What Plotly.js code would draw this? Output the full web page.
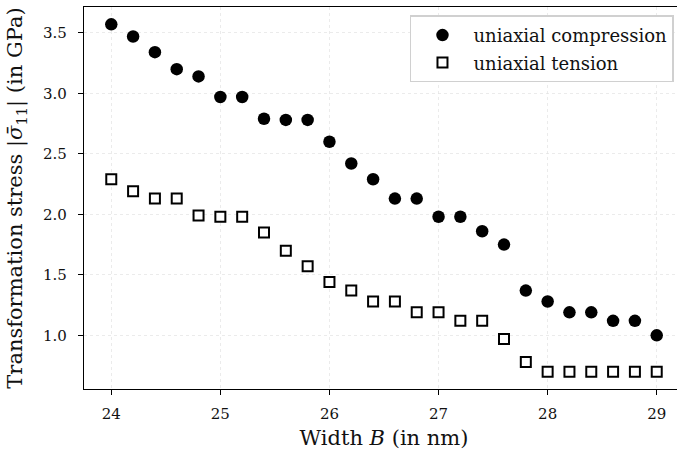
<!DOCTYPE html>
<html>
<head>
<meta charset="utf-8">
<script src="https://cdn.plot.ly/plotly-3.0.1.min.js"></script>
<style>
  html, body { margin: 0; padding: 0; overflow: hidden; background: #fff; }
  #chart { width: 690px; height: 458px; }
</style>
</head>
<body>
<div id="chart"></div>
<script>
// Strip width B (nm)
const widths = [24.0, 24.2, 24.4, 24.6, 24.8, 25.0, 25.2, 25.4, 25.6, 25.8, 26.0,
                26.2, 26.4, 26.6, 26.8, 27.0, 27.2, 27.4, 27.6, 27.8,
                28.0, 28.2, 28.4, 28.6, 28.8, 29.0];

// |sigma_11| at transformation (GPa)
const compression = [3.57, 3.47, 3.34, 3.20, 3.14, 2.97, 2.97, 2.79, 2.78, 2.78, 2.60,
                     2.42, 2.29, 2.13, 2.13, 1.98, 1.98, 1.86, 1.75, 1.37,
                     1.28, 1.19, 1.19, 1.12, 1.12, 1.00];
const tension = [2.29, 2.19, 2.13, 2.13, 1.99, 1.98, 1.98, 1.85, 1.70, 1.57, 1.44,
                 1.37, 1.28, 1.28, 1.19, 1.19, 1.12, 1.12, 0.97, 0.78,
                 0.70, 0.70, 0.70, 0.70, 0.70, 0.70];

const seriesNames = ['uniaxial compression', 'uniaxial tension'];
const xTicks = [24, 25, 26, 27, 28, 29];
const yTicks = [1.0, 1.5, 2.0, 2.5, 3.0, 3.5];

const serif = 'DejaVu Serif, serif';
const ink = '#111111';

const traces = [
  {
    x: widths, y: compression, name: seriesNames[0], type: 'scatter', mode: 'markers',
    legendgroup: 'c',
    marker: { symbol: 'circle', size: 12.5, color: '#000000', line: { width: 0 } }
  },
  {
    x: widths, y: tension, name: seriesNames[1], type: 'scatter', mode: 'markers',
    legendgroup: 't',
    marker: { symbol: 'square', size: 10, color: '#ffffff', line: { width: 2, color: '#000000' } }
  }
];

const axisCommon = {
  showline: true, mirror: true, linecolor: '#000000', linewidth: 1.2,
  ticks: 'outside', ticklen: 5, tickwidth: 1.2, tickcolor: '#000000',
  showgrid: true, gridcolor: '#e2e2e2', griddash: 'dot', gridwidth: 0.7,
  zeroline: false,
  tickfont: { family: serif, size: 15, color: ink }
};

const layout = {
  width: 690, height: 458,
  margin: { l: 84, r: 6, t: 7, b: 69 },
  paper_bgcolor: '#ffffff', plot_bgcolor: '#ffffff',
  showlegend: true,
  xaxis: Object.assign({}, axisCommon, {
    range: [23.75, 29.25],
    tickvals: xTicks, ticktext: xTicks.map(String),
    ticklabelstandoff: 6,
    title: { text: 'Width <i>B</i> (in nm)', font: { family: serif, size: 21, color: ink }, standoff: 8 }
  }),
  yaxis: Object.assign({}, axisCommon, {
    range: [0.5565, 3.7135],
    tickvals: yTicks, ticktext: yTicks.map(v => v.toFixed(1)),
    ticklabelstandoff: 8,
    title: { text: 'Transformation stress |<i>σ̄</i><sub>11</sub>| (in GPa)', font: { family: serif, size: 21, color: ink }, standoff: 14 }
  }),
  legend: {
    x: 0.9833, y: 0.978, xanchor: 'right', yanchor: 'top',
    bgcolor: '#ffffff', bordercolor: '#d0d0d0', borderwidth: 1.5,
    font: { family: serif, size: 18, color: ink },
    itemwidth: 52, traceorder: 'grouped', tracegroupgap: 1
  }
};

Plotly.newPlot('chart', traces, layout, { displayModeBar: false, staticPlot: true });
</script>
</body>
</html>
